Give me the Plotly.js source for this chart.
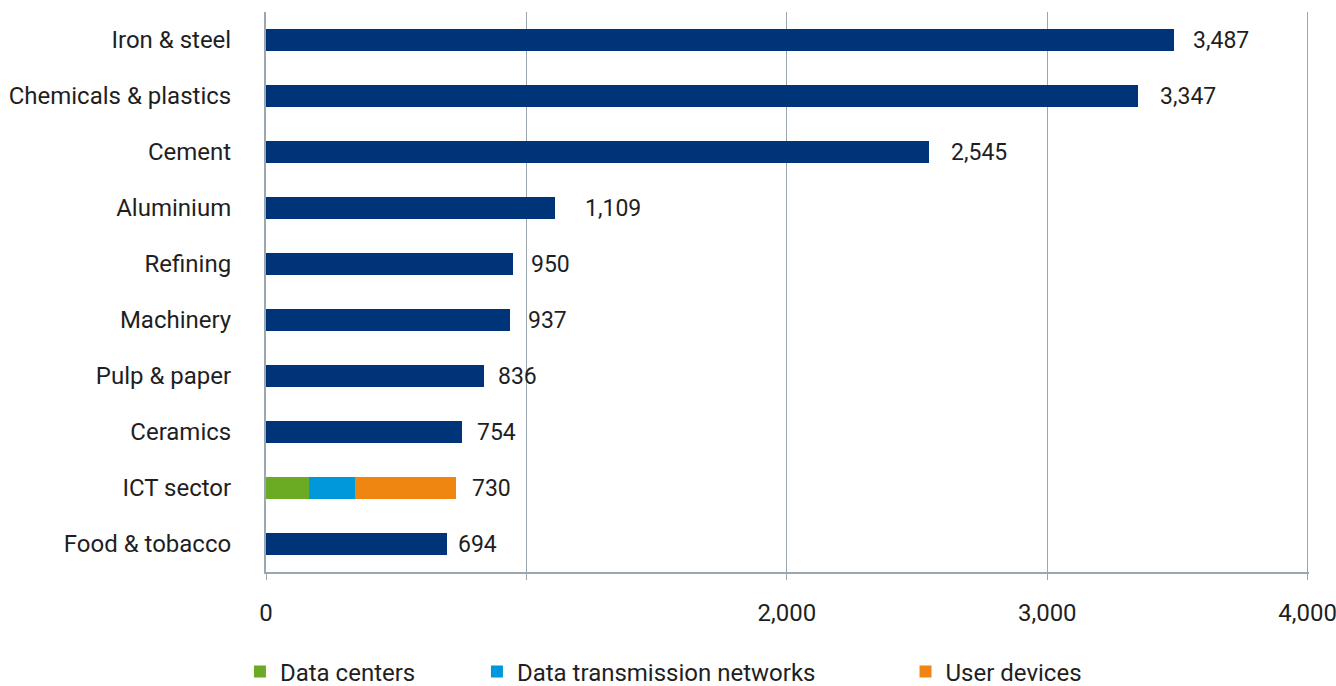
<!DOCTYPE html>
<html>
<head>
<meta charset="utf-8">
<script src="https://cdn.plot.ly/plotly-3.0.1.min.js"></script>
<style>
  html, body { margin: 0; padding: 0; background: #ffffff; }
  #chart { width: 1336px; height: 686px; }
</style>
</head>
<body>
<div id="chart"></div>
<script>
// ---- Data ----
const categories = [
  "Iron & steel", "Chemicals & plastics", "Cement", "Aluminium", "Refining",
  "Machinery", "Pulp & paper", "Ceramics", "ICT sector", "Food & tobacco"
];
const industryCategories = [
  "Iron & steel", "Chemicals & plastics", "Cement", "Aluminium", "Refining",
  "Machinery", "Pulp & paper", "Ceramics", "Food & tobacco"
];
const industryValues = [3487, 3347, 2545, 1109, 950, 937, 836, 754, 694];

const ictCategory = ["ICT sector"];
const ictSeriesNames = ["Data centers", "Data transmission networks", "User devices"];
const dataCenters = [165];
const dataTransmission = [175];
const userDevices = [390];

const xTickValues = [0, 1000, 2000, 3000, 4000];
const xTickLabels = ["0", "", "2,000", "3,000", "4,000"];

// ---- Styles ----
const FONT = "Roboto, 'Noto Sans', Arial, sans-serif";
const TEXT = "#1f1f1f";
const AXIS = "#9aa6b0";
const NAVY = "#003478";
const GREEN = "#6aab23";
const BLUE = "#0097db";
const ORANGE = "#f08612";
// pixel gap between bar end and its value label
const labelShift = {
  "Iron & steel": 17, "Chemicals & plastics": 20, "Cement": 20, "Aluminium": 28,
  "Refining": 16, "Machinery": 16, "Pulp & paper": 12, "Ceramics": 13,
  "ICT sector": 14, "Food & tobacco": 9
};

const fmt = v => v.toLocaleString("en-US");

const traces = [
  {
    type: "bar", orientation: "h",
    y: industryCategories, x: industryValues,
    marker: { color: NAVY },
    showlegend: false, hoverinfo: "x+y", name: "Industry"
  },
  {
    type: "bar", orientation: "h",
    y: ictCategory, x: dataCenters, name: ictSeriesNames[0],
    marker: { color: GREEN }, legend: "legend"
  },
  {
    type: "bar", orientation: "h",
    y: ictCategory, x: dataTransmission, name: ictSeriesNames[1],
    marker: { color: BLUE }, legend: "legend2"
  },
  {
    type: "bar", orientation: "h",
    y: ictCategory, x: userDevices, name: ictSeriesNames[2],
    marker: { color: ORANGE }, legend: "legend3"
  }
];

// totals for labels
const totals = {};
industryCategories.forEach((c, i) => { totals[c] = industryValues[i]; });
totals[ictCategory[0]] = dataCenters[0] + dataTransmission[0] + userDevices[0];

const annotations = categories.map(c => ({
  x: totals[c], y: c, xref: "x", yref: "y",
  text: fmt(totals[c]),
  showarrow: false, xanchor: "left", yanchor: "middle",
  xshift: labelShift[c],
  font: { family: FONT, size: 23, color: TEXT }
}));

const legendBase = {
  orientation: "h", xref: "container", yref: "container",
  yanchor: "middle", xanchor: "left", y: 0.0204,
  font: { family: FONT, size: 24, color: TEXT },
  bgcolor: "rgba(0,0,0,0)", borderwidth: 0
};

const layout = {
  width: 1336, height: 686,
  margin: { l: 266, r: 27, t: 12, b: 114, autoexpand: false },
  paper_bgcolor: "#ffffff", plot_bgcolor: "#ffffff",
  font: { family: FONT, size: 24, color: TEXT },
  barmode: "stack",
  bargap: 0.607,
  xaxis: {
    range: [0, 4005],
    tickmode: "array", tickvals: xTickValues, ticktext: xTickLabels,
    showgrid: true, gridcolor: AXIS, gridwidth: 1,
    zeroline: false,
    showline: true, linecolor: AXIS, linewidth: 2,
    ticks: "outside", ticklen: 6, tickcolor: AXIS, tickwidth: 1,
    ticklabelstandoff: 12,
    ticklabeloverflow: "allow",
    tickfont: { family: FONT, size: 24, color: TEXT },
    automargin: false,
    fixedrange: true
  },
  yaxis: {
    type: "category",
    categoryorder: "array", categoryarray: categories,
    autorange: "reversed",
    showgrid: false, zeroline: false,
    showline: true, linecolor: AXIS, linewidth: 2,
    ticks: "", ticklabelstandoff: 28,
    tickfont: { family: FONT, size: 24, color: TEXT },
    automargin: false,
    fixedrange: true
  },
  showlegend: true,
  legend: Object.assign({}, legendBase, { x: 0.1796 }),
  legend2: Object.assign({}, legendBase, { x: 0.357 }),
  legend3: Object.assign({}, legendBase, { x: 0.6778 }),
  annotations: annotations
};

Plotly.newPlot("chart", traces, layout, { displayModeBar: false, staticPlot: true });
</script>
</body>
</html>
